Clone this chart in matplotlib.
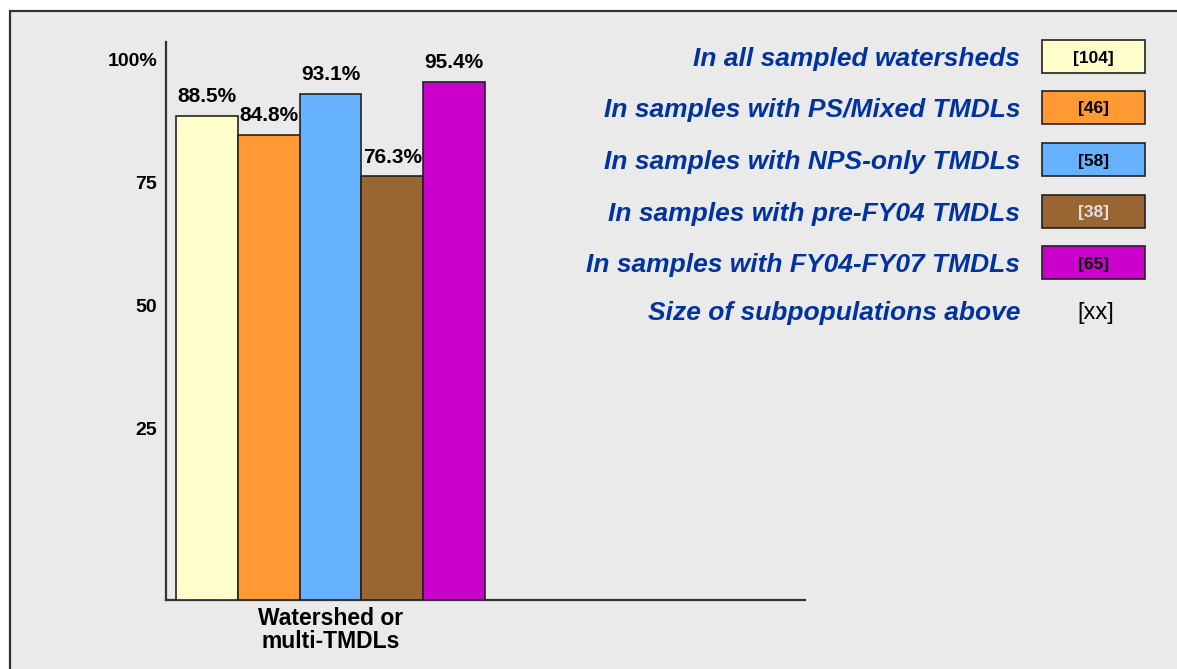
import matplotlib
matplotlib.use("Agg")
import matplotlib.pyplot as plt
from matplotlib.patches import Rectangle

# ---- data ----
group_label = "Watershed or\nmulti-TMDLs"
series_names = [
    "In all sampled watersheds",
    "In samples with PS/Mixed TMDLs",
    "In samples with NPS-only TMDLs",
    "In samples with pre-FY04 TMDLs",
    "In samples with FY04-FY07 TMDLs",
]
values = [88.5, 84.8, 93.1, 76.3, 95.4]
counts = ["[104]", "[46]", "[58]", "[38]", "[65]"]
colors = ["#FFFFCC", "#FF9933", "#66B2FF", "#996633", "#CC00CC"]
count_text_colors = ["black", "black", "black", "#E0E0E0", "black"]
size_note = "Size of subpopulations above"
size_tag = "[xx]"
ytick_vals = [25, 50, 75, 100]
ytick_labels = ["25", "50", "75", "100%"]

plt.rcParams['font.family'] = ['Liberation Sans', 'DejaVu Sans']

W, H = 1177, 669
fig = plt.figure(figsize=(W / 100, H / 100), dpi=100)
fig.patch.set_facecolor("white")

# panel background / frame
bg = Rectangle((10 / W, -0.2), 1.2, 1 - 11 / H + 0.2,
               transform=fig.transFigure, facecolor="#EAEAEA",
               edgecolor="#333333", linewidth=1.6, zorder=-5)
fig.patches.append(bg)

ax = fig.add_axes([165.7 / W, 1 - 600 / H, (805 - 165.7) / W, (600 - 42) / H])
ax.set_zorder(2)
ax.set_facecolor("none")
ax.set_ylim(-9.75, 103.6)
ax.set_xlim(-2.667, 7.68)
for s in ["top", "right"]:
    ax.spines[s].set_visible(False)
for s in ["left", "bottom"]:
    ax.spines[s].set_color("#333333")
    ax.spines[s].set_linewidth(1.6)

n = len(values)
xs = [i - (n - 1) / 2 for i in range(n)]
bars = ax.bar(xs, [v - (-9.75) for v in values], bottom=-9.75, width=1.0,
              color=colors, edgecolor="#222222", linewidth=1.2, zorder=3)
for x, v in zip(xs, values):
    ax.annotate(f"{v}%", (x, v), xytext=(0, 10), textcoords="offset points",
                ha="center", va="baseline", fontsize=15, fontweight="bold",
                color="black")

ax.set_yticks(ytick_vals)
ax.set_yticklabels(ytick_labels, fontsize=14, fontweight="bold")
ax.set_xticks([0])
ax.set_xticklabels([group_label], fontsize=16.5, fontweight="bold", linespacing=1.0)
ax.tick_params(axis="both", length=0)
ax.tick_params(axis="y", pad=6)
ax.tick_params(axis="x", pad=5)

# legend-like list
row_y = [56.5, 107.5, 159.5, 211.5, 262.5]
for name, c, cnt, tc, yy in zip(series_names, colors, counts, count_text_colors, row_y):
    fig.text(1020 / W, 1 - yy / H, name, ha="right", va="center_baseline",
             fontsize=19, fontweight="bold", style="italic", color="#0033A0")
    fig.patches.append(Rectangle((1042 / W, 1 - (yy + 16.5) / H), 103 / W, 33 / H,
                                 transform=fig.transFigure, facecolor=c,
                                 edgecolor="#222222", linewidth=1.2, zorder=2))
    fig.text(1093.5 / W, 1 - yy / H, cnt, ha="center", va="center_baseline",
             fontsize=12.5, fontweight="bold", color=tc)
fig.text(1020 / W, 1 - 311 / H, size_note, ha="right", va="center_baseline",
         fontsize=19, fontweight="bold", style="italic", color="#0033A0")
fig.text(1096 / W, 1 - 311 / H, size_tag, ha="center", va="center_baseline",
         fontsize=17, color="black")

fig.savefig("out.png", dpi=100)
